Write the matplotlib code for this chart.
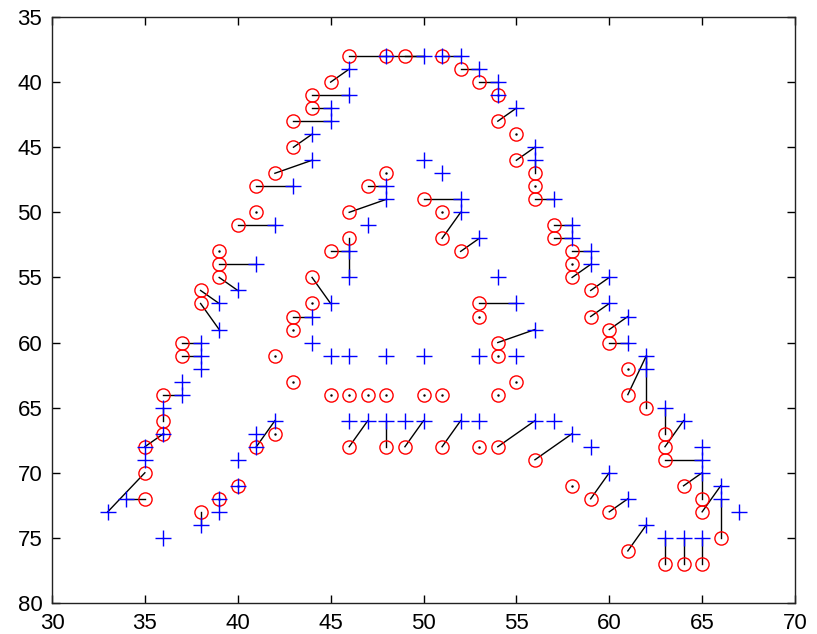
import numpy as np
import matplotlib
matplotlib.use("Agg")
import matplotlib.pyplot as plt

# red circles (x, y) and the blue plus each one is matched to (mx, my)
cx = [46, 48, 49, 51, 45, 44, 44, 43, 43, 42, 41, 41, 40, 39, 39, 39, 38, 38, 37, 37,
      36, 36, 36, 35, 35, 35,
      38, 39, 40, 41, 42, 43, 42, 43, 43, 44, 44, 45, 46, 46, 47, 48,
      50, 51, 51, 52,
      53, 53, 54, 54, 55,
      45, 46, 47, 48, 50, 51, 54,
      46, 48, 49, 51, 53, 54,
      56, 58, 59, 60, 61, 63, 64, 65,
      52, 53, 54, 54, 55, 55, 56, 56, 56, 57, 57, 58, 58, 58, 59, 59, 60, 60,
      61, 61, 62, 63, 63, 63, 64, 65, 65, 66]
cy = [38, 38, 38, 38, 40, 41, 42, 43, 45, 47, 48, 50, 51, 53, 54, 55, 56, 57, 60, 61,
      64, 66, 67, 68, 70, 72,
      73, 72, 71, 68, 67, 63, 61, 59, 58, 57, 55, 53, 52, 50, 48, 47,
      49, 50, 52, 53,
      57, 58, 60, 61, 63,
      64, 64, 64, 64, 64, 64, 64,
      68, 68, 68, 68, 68, 68,
      69, 71, 72, 73, 76, 77, 77, 77,
      39, 40, 41, 43, 44, 46, 47, 48, 49, 51, 52, 53, 54, 55, 56, 58, 59, 60,
      62, 64, 65, 67, 68, 69, 71, 72, 73, 75]
mx = [48, 50, 50, 52, 46, 46, 45, 45, 44, 44, 43, 41, 42, 39, 41, 40, 39, 39, 38, 38,
      37, 36, 36, 36, 33, 34,
      38, 39, 40, 42, 42, 43, 42, 43, 44, 44, 45, 46, 46, 48, 48, 48,
      52, 51, 52, 53,
      55, 53, 56, 54, 55,
      45, 46, 47, 48, 50, 51, 54,
      47, 48, 50, 52, 53, 56,
      58, 58, 60, 61, 62, 63, 64, 65,
      53, 54, 54, 55, 55, 56, 56, 56, 57, 58, 58, 59, 58, 59, 60, 60, 61, 61,
      61, 62, 62, 63, 64, 65, 65, 65, 66, 66]
my = [38, 38, 38, 38, 39, 41, 42, 43, 44, 46, 48, 50, 51, 53, 54, 56, 57, 59, 60, 61,
      64, 65, 67, 67, 73, 72,
      74, 72, 71, 66, 67, 63, 61, 59, 58, 57, 57, 53, 55, 49, 48, 47,
      49, 50, 50, 52,
      57, 58, 59, 61, 63,
      64, 64, 64, 64, 64, 64, 64,
      66, 66, 66, 66, 68, 66,
      67, 71, 70, 72, 74, 75, 75, 75,
      39, 40, 41, 42, 44, 45, 46, 48, 49, 51, 52, 53, 54, 54, 55, 57, 58, 60,
      62, 61, 61, 65, 66, 69, 70, 70, 71, 72]

# blue plus markers
px = [48, 50, 51, 52, 46, 46, 45, 45, 44, 44, 43, 42, 41, 40, 39, 39, 38, 38, 38, 37,
      37, 36, 36, 35, 35, 34, 33, 36,
      38, 39, 39, 40, 40, 41, 41, 42,
      44, 44, 45, 46, 46, 47, 48, 48, 50, 51, 52, 52, 53, 54, 55, 56,
      45, 46, 48, 50, 53, 55,
      46, 47, 48, 49, 50, 52, 53, 56, 57,
      58, 59, 60, 61, 62, 63, 64, 65,
      53, 54, 54, 55, 56, 56, 57, 58, 58, 59, 59, 60, 60, 61, 61, 62, 62,
      63, 64, 65, 65, 65, 66, 66, 67]
py = [38, 38, 38, 38, 39, 41, 42, 43, 44, 46, 48, 51, 54, 56, 57, 59, 60, 61, 62, 63,
      64, 65, 67, 68, 69, 72, 73, 75,
      74, 72, 73, 71, 69, 68, 67, 66,
      58, 60, 57, 53, 55, 51, 48, 49, 46, 47, 49, 50, 52, 55, 57, 59,
      61, 61, 61, 61, 61, 61,
      66, 66, 66, 66, 66, 66, 66, 66, 66,
      67, 68, 70, 72, 74, 75, 75, 75,
      39, 40, 41, 42, 45, 46, 49, 51, 52, 53, 54, 55, 57, 58, 60, 61, 62,
      65, 66, 68, 69, 70, 71, 72, 73]

plt.rcParams['font.family'] = ['Liberation Sans', 'DejaVu Sans']

fig = plt.figure(figsize=(8.17, 6.34), dpi=100)
ax = fig.add_axes([52/817, 31/634, 743/817, 586/634])

# matching lines, circle -> plus
for x0, y0, x1, y1 in zip(cx, cy, mx, my):
    if x0 == x1 and y0 == y1:
        ax.plot(x0, y0, 'k.', markersize=1.5)
    else:
        ax.plot([x0, x1], [y0, y1], 'k-', linewidth=1.0)

ax.plot(cx, cy, 'o', markerfacecolor='none', markeredgecolor='red',
        markersize=9.5, markeredgewidth=1.0, linestyle='none')
ax.plot(px, py, '+', color='blue', markersize=12, markeredgewidth=1.0,
        linestyle='none')

ax.set_xlim(30, 70)
ax.set_ylim(80, 35)
ax.set_xticks(np.arange(30, 71, 5))
ax.set_yticks(np.arange(35, 81, 5))
ax.tick_params(direction='in', length=6, width=1, top=True, right=True,
               labelsize=16, pad=7)
for s in ax.spines.values():
    s.set_linewidth(1.0)
    s.set_color('#222222')

fig.savefig('out.png', dpi=100)
